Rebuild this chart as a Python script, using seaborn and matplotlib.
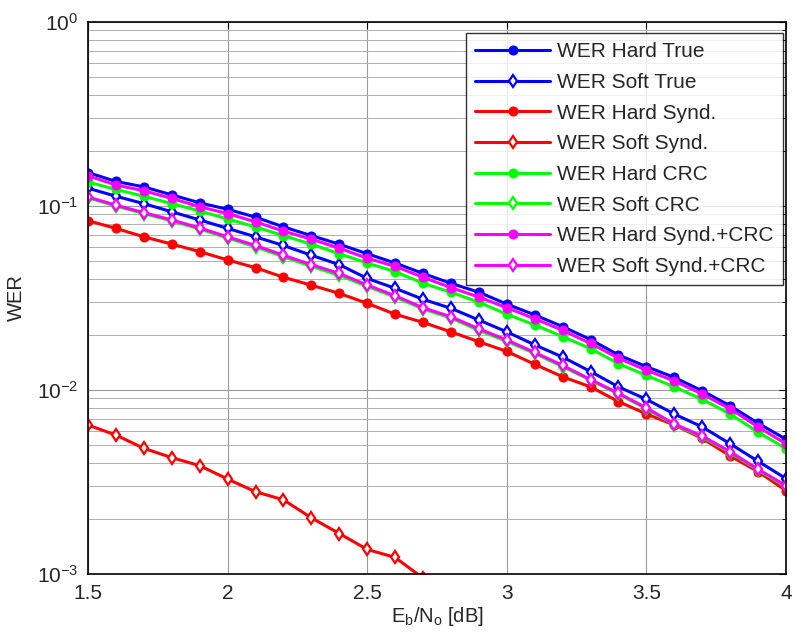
import numpy as np
import pandas as pd
import matplotlib
matplotlib.use("Agg")
import matplotlib.pyplot as plt
import seaborn as sns
from matplotlib.ticker import LogLocator, NullFormatter, FuncFormatter

ebno = [1.5, 1.6, 1.7, 1.8, 1.9, 2.0, 2.1, 2.2, 2.3, 2.4, 2.5, 2.6, 2.7,
        2.8, 2.9, 3.0, 3.1, 3.2, 3.3, 3.4, 3.5, 3.6, 3.7, 3.8, 3.9, 4.0]

wer_hard_true = [0.152, 0.136, 0.127, 0.115, 0.104, 0.096, 0.087, 0.077, 0.069, 0.062,
                 0.055, 0.049, 0.043, 0.038, 0.034, 0.0293, 0.0256, 0.0221, 0.0188,
                 0.0155, 0.0134, 0.0117, 0.0099, 0.0082, 0.0066, 0.0054]
wer_soft_true = [0.125, 0.113, 0.103, 0.093, 0.084, 0.0756, 0.068, 0.061, 0.054, 0.048,
                 0.0404, 0.0357, 0.0311, 0.0278, 0.0240, 0.0207, 0.0176, 0.0151, 0.0126,
                 0.0104, 0.0089, 0.0074, 0.0063, 0.0051, 0.0041, 0.0033]
wer_hard_synd = [0.0832, 0.0756, 0.068, 0.0621, 0.0565, 0.0509, 0.0462, 0.0410, 0.0371,
                 0.0335, 0.0296, 0.0258, 0.0233, 0.0207, 0.0183, 0.0162, 0.0138, 0.0118,
                 0.0104, 0.00865, 0.00741, 0.00645, 0.00546, 0.00438, 0.0036, 0.00284]
wer_soft_synd = [0.00645, 0.00569, 0.00482, 0.00429, 0.00388, 0.00328, 0.0028, 0.00253,
                 0.00202, 0.00166, 0.00136, 0.00123, 0.00095, 0.00076, 0.00062, 0.00050,
                 0.00041, 0.00033, 0.00027, 0.00021, 0.00017, 0.00014, 0.00011,
                 0.00009, 0.00007, 0.00006]
wer_hard_crc = [0.135, 0.123, 0.113, 0.103, 0.094, 0.085, 0.077, 0.069, 0.062, 0.055,
                0.049, 0.044, 0.038, 0.034, 0.030, 0.0258, 0.0226, 0.0195, 0.0168,
                0.0139, 0.0120, 0.0104, 0.0089, 0.0074, 0.0059, 0.0048]
wer_soft_crc = [0.111, 0.100, 0.091, 0.083, 0.075, 0.067, 0.060, 0.053, 0.047, 0.042,
                0.0366, 0.0320, 0.0276, 0.0246, 0.0211, 0.0184, 0.0158, 0.0134, 0.0113,
                0.0095, 0.0079, 0.00648, 0.00556, 0.00457, 0.00367, 0.00299]
wer_hard_synd_crc = [0.146, 0.130, 0.121, 0.110, 0.099, 0.091, 0.082, 0.073, 0.066, 0.059,
                     0.052, 0.047, 0.041, 0.036, 0.032, 0.028, 0.0244, 0.0211, 0.0179,
                     0.0149, 0.0128, 0.0112, 0.0095, 0.0079, 0.0063, 0.0051]
wer_soft_synd_crc = [0.112, 0.101, 0.092, 0.084, 0.076, 0.068, 0.061, 0.054, 0.048, 0.043,
                     0.0372, 0.0325, 0.028, 0.025, 0.0215, 0.0187, 0.0160, 0.0136, 0.0114,
                     0.0096, 0.0080, 0.00653, 0.00562, 0.00462, 0.00371, 0.00302]

labels = ["WER Hard True", "WER Soft True", "WER Hard Synd.", "WER Soft Synd.",
          "WER Hard CRC", "WER Soft CRC", "WER Hard Synd.+CRC", "WER Soft Synd.+CRC"]
series = [wer_hard_true, wer_soft_true, wer_hard_synd, wer_soft_synd,
          wer_hard_crc, wer_soft_crc, wer_hard_synd_crc, wer_soft_synd_crc]
colors = ["#0000ff", "#0000ff", "#ff0000", "#ff0000",
          "#00ff00", "#00ff00", "#ff00ff", "#ff00ff"]
markers = ["o", "d", "o", "d", "o", "d", "o", "d"]
xtick_vals = [1.5, 2, 2.5, 3, 3.5, 4]
xtick_labels = ["1.5", "2", "2.5", "3", "3.5", "4"]

sns.set_style("white")
plt.rcParams['font.family'] = ['Liberation Sans', 'DejaVu Sans']
plt.rcParams['mathtext.fontset'] = 'custom'
plt.rcParams['mathtext.rm'] = 'Liberation Sans'
plt.rcParams['mathtext.it'] = 'Liberation Sans:italic'
plt.rcParams['mathtext.default'] = 'rm'
plt.rcParams['axes.unicode_minus'] = False

fig = plt.figure(figsize=(7.95, 6.36), dpi=100)
ax = fig.add_axes([88/795, 62/636, (786-88)/795, (574-22)/636])

for lab, vals, col, mk in zip(labels, series, colors, markers):
    df = pd.DataFrame({"x": ebno, "y": vals})
    if mk == "o":
        kw = dict(markerfacecolor=col, markeredgecolor=col, markersize=6.5)
    else:
        kw = dict(markerfacecolor="white", markeredgecolor=col, markersize=6,
                  markeredgewidth=1.6)
    sns.lineplot(data=df, x="x", y="y", ax=ax, color=col, marker=mk, linewidth=2.2,
                 label=lab, **kw)

ax.set_yscale("log")
ax.set_xlim(1.5, 4)
ax.set_ylim(1e-3, 1)
ax.set_xticks(xtick_vals)
ax.set_xticklabels(xtick_labels)
ax.yaxis.set_major_locator(LogLocator(base=10, numticks=10))
ax.yaxis.set_major_formatter(FuncFormatter(
    lambda v, p: r"$10^{%d}$" % int(round(np.log10(v)))))
ax.yaxis.set_minor_locator(LogLocator(base=10, subs=np.arange(2, 10), numticks=20))
ax.yaxis.set_minor_formatter(NullFormatter())

ax.grid(True, which="major", color="#9a9a9a", linewidth=0.8)
ax.grid(True, which="minor", axis="y", color="#b0b0b0", linewidth=0.7)
ax.tick_params(axis="both", which="both", direction="in", labelsize=15,
               top=True, right=True, color="black")
ax.tick_params(axis="x", which="major", pad=7)
ax.tick_params(axis="y", which="major", pad=7)
ax.tick_params(which="major", length=5)
ax.tick_params(which="minor", length=3)
for s in ax.spines.values():
    s.set_color("black")
    s.set_linewidth(1.2)

ax.set_xlabel(r"E$_\mathrm{b}$/N$_\mathrm{o}$ [dB]", fontsize=14.5, labelpad=2)
ax.set_ylabel("WER", fontsize=14.5, labelpad=8)

leg = ax.legend(loc="upper right", bbox_to_anchor=(0.996, 0.98), fontsize=15,
                handlelength=3.6, handletextpad=0.35, frameon=True, fancybox=False,
                borderaxespad=0.0, labelspacing=0.56, borderpad=0.45)
leg.get_frame().set_edgecolor("black")
leg.get_frame().set_linewidth(1.0)

fig.savefig("out.png", dpi=100, facecolor="white")
